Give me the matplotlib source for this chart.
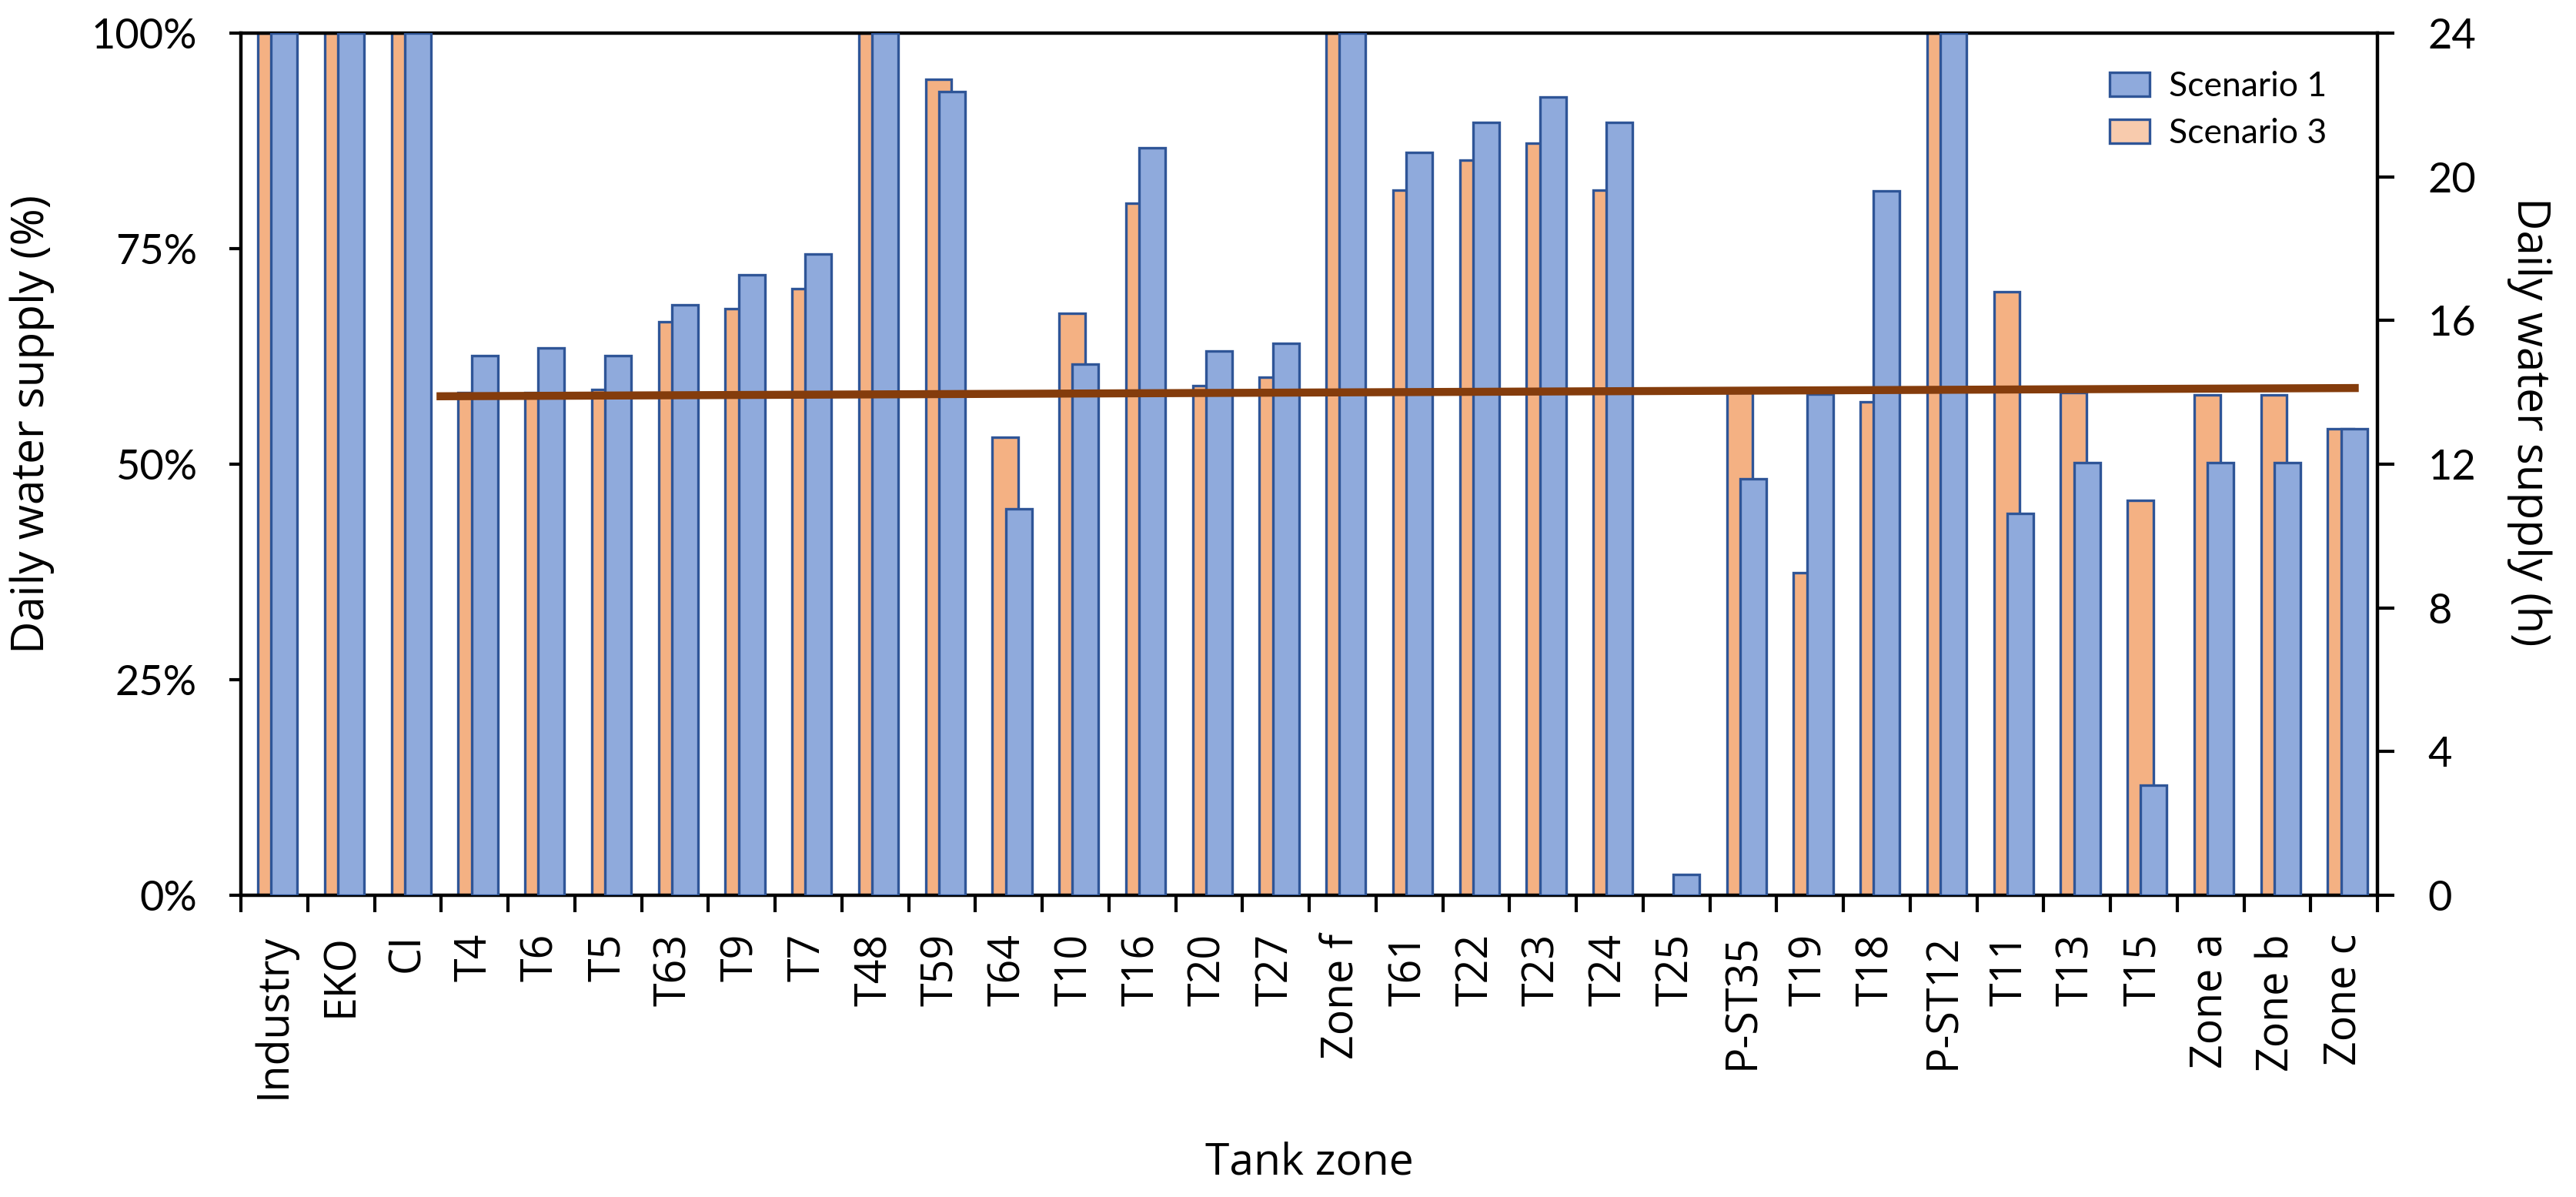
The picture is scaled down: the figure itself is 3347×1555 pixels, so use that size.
import matplotlib
matplotlib.use("Agg")
import matplotlib.pyplot as plt
from matplotlib.patches import Patch
import numpy as np

categories = ["Industry", "EKO", "CI", "T4", "T6", "T5", "T63", "T9", "T7", "T48",
              "T59", "T64", "T10", "T16", "T20", "T27", "Zone f", "T61", "T22", "T23",
              "T24", "T25", "P-ST35", "T19", "T18", "P-ST12", "T11", "T13", "T15",
              "Zone a", "Zone b", "Zone c"]

# Daily water supply (%)
scenario1 = [100, 100, 100, 62.6, 63.5, 62.6, 68.5, 72.0, 74.4, 100,
             93.2, 44.8, 61.6, 86.7, 63.1, 64.0, 100, 86.2, 89.6, 92.6,
             89.6, 2.4, 48.3, 58.1, 81.7, 100, 44.3, 50.2, 12.8,
             50.2, 50.2, 54.1]
scenario3 = [100, 100, 100, 58.3, 58.3, 58.7, 66.5, 68.0, 70.4, 100,
             94.6, 53.1, 67.5, 80.3, 59.1, 60.1, 100, 81.8, 85.3, 87.2,
             81.8, 0.0, 58.3, 37.4, 57.2, 100, 70.0, 58.3, 45.8,
             58.0, 58.0, 54.1]

# reference line (hours, secondary axis)
line_x = [2.43, 31.22]
line_h = [13.89, 14.12]

pct_ticks = [0, 25, 50, 75, 100]
pct_labels = ["0%", "25%", "50%", "75%", "100%"]
hour_ticks = [0, 4, 8, 12, 16, 20, 24]

W, H = 3347, 1555
fig = plt.figure(figsize=(W / 100, H / 100), dpi=100)
L, R, T, B = 313, 3089, 43, 1163
ax = fig.add_axes([L / W, 1 - B / H, (R - L) / W, (B - T) / H])

orange = "#F4B183"
blue = "#8FAADC"
edge = "#2F5597"
x = np.arange(len(categories))
bw = 0.39
ax.bar(x - 0.05, scenario3, width=bw, color=orange, edgecolor=edge, linewidth=2.4, zorder=2)
ax.bar(x + 0.15, scenario1, width=bw, color=blue, edgecolor=edge, linewidth=2.4, zorder=3)

ax.set_xlim(-0.5, len(categories) - 0.5)
ax.set_ylim(0, 100)
ax.set_yticks(pct_ticks)
ax.set_yticklabels(pct_labels, fontfamily="Lato", fontsize=39)

ax.set_xticks(x)
ax.set_xticklabels(categories, rotation=90, fontfamily="Open Sans", fontsize=40,
                   va="top", ha="center")
ax.set_xticks(np.arange(-0.5, len(categories)), minor=True)
ax.tick_params(axis="x", which="major", length=0, pad=36)
ax.tick_params(axis="x", which="minor", length=16, width=3, direction="out")
ax.tick_params(axis="y", length=11, width=3, direction="out", pad=30)

for s in ["left", "bottom", "top"]:
    ax.spines[s].set_linewidth(3.2)
    ax.spines[s].set_color("black")
ax.spines["right"].set_visible(False)

ax2 = ax.twinx()
ax2.set_ylim(0, 24)
ax2.set_yticks(hour_ticks)
ax2.set_yticklabels([str(t) for t in hour_ticks], fontfamily="Lato", fontsize=39)
ax2.tick_params(axis="y", length=16, width=3, direction="out", pad=31)
for s in ["left", "bottom", "top"]:
    ax2.spines[s].set_visible(False)
ax2.spines["right"].set_linewidth(3.2)
ax2.plot(line_x, line_h, color="#843C0C", linewidth=7.5, solid_capstyle="butt", zorder=5)

fig.text(42 / W, 1 - 551 / H, "Daily water supply (%)", rotation=90, ha="center",
         va="center", fontfamily="Open Sans", fontsize=42)
fig.text(3286 / W, 1 - 548 / H, "Daily water supply (h)", rotation=270, ha="center",
         va="center", fontfamily="Open Sans", fontsize=42)
fig.text((L + R) / 2 / W, 1 - 1525 / H, "Tank zone", ha="center", va="baseline",
         fontfamily="Open Sans", fontsize=41)

handles = [Patch(facecolor=blue, edgecolor=edge, linewidth=2.4),
           Patch(facecolor="#F8CBAD", edgecolor=edge, linewidth=2.4)]
leg = fig.legend(handles, ["Scenario 1", "Scenario 3"], loc="upper left",
                 bbox_to_anchor=(2741 / W, 1 - 92 / H), frameon=False,
                 prop={"family": "Lato", "size": 32}, handlelength=1.18,
                 handleheight=0.7, handletextpad=0.55, labelspacing=0.45,
                 borderpad=0, borderaxespad=0)

fig.savefig("out.png", dpi=100, facecolor="white")
